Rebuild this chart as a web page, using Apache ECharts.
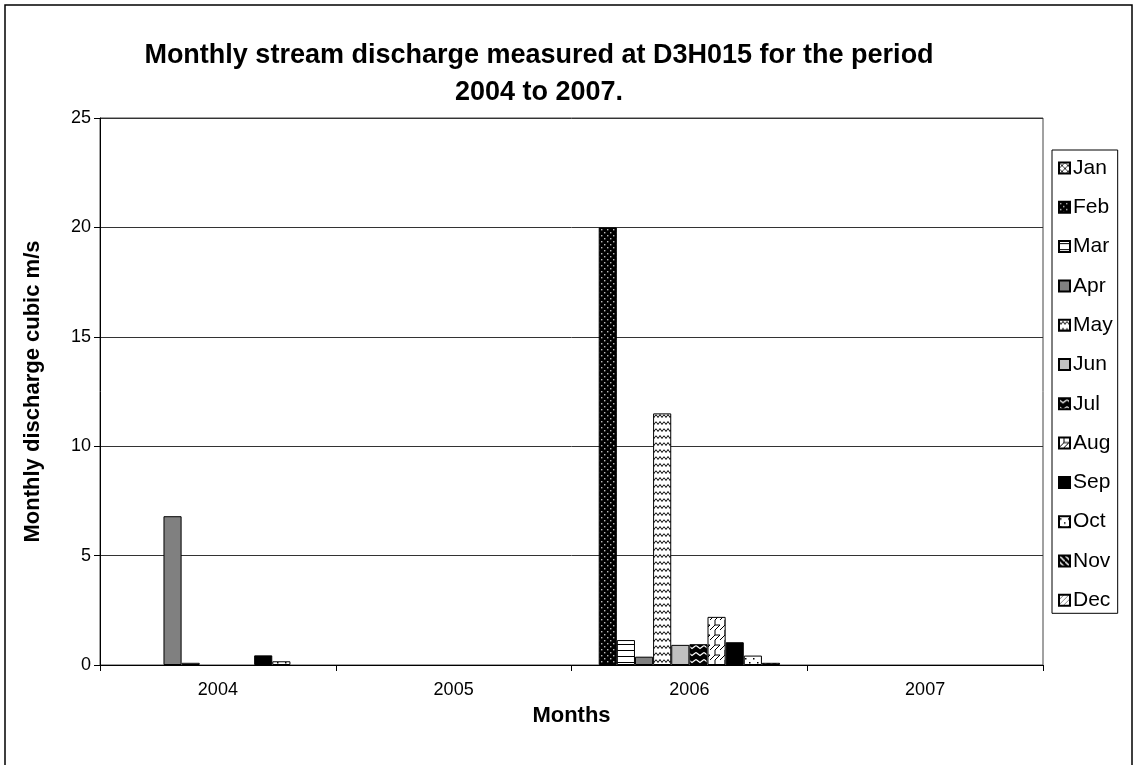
<!DOCTYPE html>
<html>
<head>
<meta charset="utf-8">
<script src="https://cdn.jsdelivr.net/npm/echarts@6/dist/echarts.min.js"></script>
<style>
  html, body { margin: 0; padding: 0; background: #fff; }
  #chart { width: 1137px; height: 765px; }
</style>
</head>
<body>
<div id="chart"></div>
<script>
// Years on the category axis
const years = ['2004', '2005', '2006', '2007'];
// Month series names
const monthNames = ['Jan', 'Feb', 'Mar', 'Apr', 'May', 'Jun', 'Jul', 'Aug', 'Sep', 'Oct', 'Nov', 'Dec'];
// Monthly discharge (cubic m/s), Jan..Dec, one array per year
const discharge2004 = [0, 0, 0, 6.8, 0.1, 0, 0, 0, 0.44, 0.17, 0, 0];
const discharge2005 = [0, 0, 0, 0, 0, 0, 0, 0, 0, 0, 0, 0];
const discharge2006 = [0, 20, 1.14, 0.38, 11.5, 0.92, 0.95, 2.2, 1.04, 0.43, 0.1, 0];
const discharge2007 = [0, 0, 0, 0, 0, 0, 0, 0, 0, 0, 0, 0];
// Value axis ticks
const yTicks = { min: 0, max: 25, interval: 5 };

const FONT = 'Liberation Sans, Arial, sans-serif';

// Small repeating fill tiles
function tile(w, h, bg, draw) {
  const c = document.createElement('canvas');
  c.width = w; c.height = h;
  const g = c.getContext('2d');
  g.fillStyle = bg;
  g.fillRect(0, 0, w, h);
  draw(g);
  return { image: c, repeat: 'repeat' };
}
function line(g, pts, color, lw) {
  g.strokeStyle = color; g.lineWidth = lw || 1;
  g.beginPath();
  g.moveTo(pts[0][0], pts[0][1]);
  for (let i = 1; i < pts.length; i++) g.lineTo(pts[i][0], pts[i][1]);
  g.stroke();
}
function dot(g, x, y, s, color) { g.fillStyle = color; g.fillRect(x, y, s, s); }

const fills = [
  // Jan: crossed diagonals
  tile(6, 6, '#fff', g => { line(g, [[0, 0], [6, 6]], '#000', 0.8); line(g, [[6, 0], [0, 6]], '#000', 0.8); }),
  // Feb: dark with light dots
  tile(6, 6, '#000', g => { dot(g, 1, 1, 1.4, '#bbb'); dot(g, 4, 4, 1.4, '#bbb'); }),
  // Mar: horizontal lines
  tile(4, 6, '#fff', g => { g.fillStyle = '#000'; g.fillRect(0, 2, 4, 1); }),
  // Apr: mid grey
  '#808080',
  // May: horizontal waves
  tile(8, 7, '#fff', g => { line(g, [[0, 1.5], [2, 4.5], [4, 1.5], [6, 4.5], [8, 1.5]], '#000', 1); }),
  // Jun: light grey
  '#c0c0c0',
  // Jul: dark with light chevrons
  tile(8, 7, '#000', g => { line(g, [[0, 1.5], [4, 4.5], [8, 1.5]], '#fff', 1.2); }),
  // Aug: trellis
  tile(10, 10, '#fff', g => { line(g, [[0, 10], [5, 5], [5, 0]], '#000', 1); line(g, [[5, 5], [10, 5]], '#000', 1); line(g, [[5, 10], [10, 5]], '#000', 1); }),
  // Sep: black
  '#000000',
  // Oct: sparse dots
  tile(8, 8, '#fff', g => { dot(g, 1, 2, 1.5, '#000'); dot(g, 5, 6, 1.5, '#000'); }),
  // Nov: dark with light downward diagonal
  tile(6, 6, '#000', g => { line(g, [[-1, -1], [7, 7]], '#fff', 1.5); }),
  // Dec: light upward diagonals
  tile(5, 5, '#fff', g => { line(g, [[0, 5], [5, 0]], '#888', 1); })
];

const byYear = [discharge2004, discharge2005, discharge2006, discharge2007];

const series = monthNames.map((m, i) => ({
  name: m,
  type: 'bar',
  barGap: '0%',
  barCategoryGap: '7.7%',
  // zero-height bars get no outline so nothing shows along the axis
  data: byYear.map(row => row[i] === 0
    ? { value: 0, itemStyle: { borderWidth: 0 } }
    : row[i]),
  itemStyle: { color: fills[i], borderColor: '#000', borderWidth: 1 },
  emphasis: { disabled: true }
}));

const chart = echarts.init(document.getElementById('chart'), null, { renderer: 'canvas' });
chart.setOption({
  animation: false,
  backgroundColor: '#fff',
  textStyle: { fontFamily: FONT },
  grid: { left: 100, right: 94, top: 118, bottom: 100, show: true, borderColor: '#444', borderWidth: 1, backgroundColor: 'transparent' },
  legend: {
    orient: 'vertical',
    left: 1052,
    top: 150,
    padding: [7, 5, 2, 6],
    borderColor: '#000',
    borderWidth: 1,
    itemWidth: 11,
    itemHeight: 11,
    itemGap: 17.3,
    icon: 'rect',
    textStyle: { fontFamily: FONT, fontSize: 21, color: '#000', padding: [0, 0, 0, -2], lineHeight: 22 },
    data: monthNames
  },
  xAxis: {
    type: 'category',
    data: years,
    name: 'Months',
    nameLocation: 'middle',
    nameGap: 40,
    nameTextStyle: { fontFamily: FONT, fontSize: 22, fontWeight: 'bold', color: '#000' },
    axisLine: { lineStyle: { color: '#000', width: 1 } },
    axisTick: { show: true, length: 6, lineStyle: { color: '#000' } },
    axisLabel: { fontFamily: FONT, fontSize: 18, color: '#000', margin: 16 },
    splitLine: { show: false }
  },
  yAxis: {
    type: 'value',
    min: yTicks.min,
    max: yTicks.max,
    interval: yTicks.interval,
    name: 'Monthly discharge cubic m/s',
    nameLocation: 'middle',
    nameGap: 56,
    nameTextStyle: { fontFamily: FONT, fontSize: 22, fontWeight: 'bold', color: '#000' },
    axisLine: { show: true, lineStyle: { color: '#000', width: 1 } },
    axisTick: { show: true, length: 6, lineStyle: { color: '#000' } },
    axisLabel: { fontFamily: FONT, fontSize: 18, color: '#000', margin: 9 },
    splitLine: { show: true, lineStyle: { color: '#333', width: 1 } }
  },
  graphic: [
    {
      type: 'rect',
      shape: { x: 5, y: 5, width: 1127, height: 775 },
      style: { fill: null, stroke: '#000', lineWidth: 1.5 },
      silent: true,
      z: 100
    },
    {
      type: 'text',
      style: {
        x: 539, y: 74,
        text: 'Monthly stream discharge measured at D3H015 for the period\n2004 to 2007.',
        textAlign: 'center',
        textVerticalAlign: 'middle',
        font: 'bold 27px ' + FONT,
        lineHeight: 37,
        fill: '#000'
      },
      silent: true
    }
  ],
  series: series
});
</script>
</body>
</html>
